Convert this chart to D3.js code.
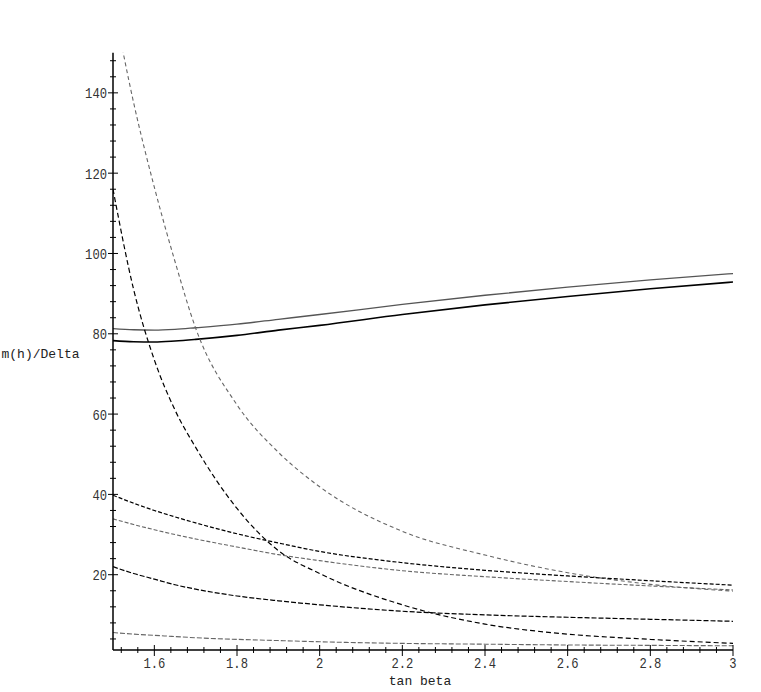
<!DOCTYPE html>
<html>
<head>
<meta charset="utf-8">
<script src="https://cdn.jsdelivr.net/npm/d3@7"></script>
<style>
  body { margin: 0; background: #fff; }
  svg { display: block; }
</style>
</head>
<body>
<script>
// tan beta grid shared by every curve
var tanBeta = [1.5, 1.55, 1.6, 1.65, 1.7, 1.8, 1.9, 2.0, 2.2, 2.4, 2.6, 2.8, 3.0];

// solid curves
var solidGray  = [81.3, 81.0, 80.9, 81.1, 81.5, 82.4, 83.6, 84.8, 87.3, 89.6, 91.6, 93.4, 95.0];
var solidBlack = [78.3, 78.0, 77.95, 78.2, 78.6, 79.6, 80.9, 82.1, 84.8, 87.2, 89.3, 91.2, 92.9];

// dashed curves
var steepGray  = [163, 137.5, 116.5, 98, 81.4, 62.3, 50.5, 41.9, 30.8, 24.9, 20.5, 17.6, 15.9];
var steepBlack = [116, 91, 73.5, 61, 51.7, 36.5, 26.0, 20.3, 12.5, 7.7, 5.2, 3.9, 2.9];
var upperBlack = [39.8, 37.8, 36.0, 34.4, 32.9, 30.2, 27.9, 25.8, 23.0, 21.1, 19.7, 18.5, 17.4];
var upperGray  = [33.9, 32.5, 31.2, 30.0, 28.9, 26.9, 25.0, 23.5, 21.0, 19.5, 18.3, 17.2, 16.2];
var lowerBlack = [22.0, 20.3, 18.9, 17.5, 16.4, 14.7, 13.5, 12.5, 10.9, 10.0, 9.4, 8.9, 8.4];
var lowerGray  = [5.6, 5.2, 4.9, 4.6, 4.3, 3.9, 3.6, 3.3, 2.9, 2.7, 2.5, 2.4, 2.3];

var xMajor = [1.6, 1.8, 2, 2.2, 2.4, 2.6, 2.8, 3];
var xLabels = ["1.6", "1.8", "2", "2.2", "2.4", "2.6", "2.8", "3"];
var yMajor = [20, 40, 60, 80, 100, 120, 140];
var yLabels = ["20", "40", "60", "80", "100", "120", "140"];

var W = 761, H = 692;

var svg = d3.select('body').append('svg')
    .attr('width', W)
    .attr('height', H);

var x = d3.scaleLinear().domain([1.5, 3]).range([113, 733]);
var y = d3.scaleLinear().domain([1.25, 150]).range([650, 52.7]);

// clip curves to the plotting box
svg.append('clipPath').attr('id', 'plotClip')
    .append('rect')
    .attr('x', x(1.5))
    .attr('y', y(150))
    .attr('width', x(3) - x(1.5))
    .attr('height', y(1.25) - y(150));

var series = [
    {vals: solidGray,  color: '#555', width: 1.3, dash: null},
    {vals: solidBlack, color: '#000', width: 1.6, dash: null},
    {vals: steepGray,  color: '#666', width: 1.1, dash: '4,3'},
    {vals: steepBlack, color: '#000', width: 1.2, dash: '5,3'},
    {vals: upperBlack, color: '#000', width: 1.2, dash: '4,2'},
    {vals: upperGray,  color: '#666', width: 1.1, dash: '4,2'},
    {vals: lowerBlack, color: '#000', width: 1.2, dash: '5,2'},
    {vals: lowerGray,  color: '#666', width: 1.1, dash: '5,2'}
];

var line = d3.line()
    .x(function(d) { return x(d[0]); })
    .y(function(d) { return y(d[1]); })
    .curve(d3.curveMonotoneX);

var g = svg.append('g').attr('clip-path', 'url(#plotClip)');

series.forEach(function(s) {
    var pts = tanBeta.map(function(t, i) { return [t, s.vals[i]]; });
    g.append('path')
        .attr('d', line(pts))
        .attr('fill', 'none')
        .attr('stroke', s.color)
        .attr('stroke-width', s.width)
        .attr('stroke-dasharray', s.dash);
});

// axes, Maple style: ticks cross the axis line
var axes = svg.append('g').attr('stroke', '#000');

axes.append('line')
    .attr('x1', x(1.5)).attr('x2', x(1.5))
    .attr('y1', y(150)).attr('y2', y(1.25))
    .attr('stroke-width', 1.5);
axes.append('line')
    .attr('x1', x(1.5)).attr('x2', x(3))
    .attr('y1', y(1.25)).attr('y2', y(1.25))
    .attr('stroke-width', 1.5);

var yMinor = d3.range(4, 150, 4);
axes.selectAll('.ytick').data(yMinor).enter().append('line')
    .attr('x1', function(d) { return d % 20 == 0 ? 108 : 110; })
    .attr('x2', function(d) { return d % 20 == 0 ? 118 : 116; })
    .attr('y1', function(d) { return y(d); })
    .attr('y2', function(d) { return y(d); })
    .attr('stroke-width', 1);

var xMinor = d3.range(38, 76).map(function(k) { return k * 0.04; });
axes.selectAll('.xtick').data(xMinor).enter().append('line')
    .attr('x1', function(d) { return x(d); })
    .attr('x2', function(d) { return x(d); })
    .attr('y1', function(d) { return Math.abs(d * 5 - Math.round(d * 5)) < 1e-6 ? 645 : 647; })
    .attr('y2', function(d) { return Math.abs(d * 5 - Math.round(d * 5)) < 1e-6 ? 656 : 653; })
    .attr('stroke-width', 1);

var labelFont = "'Liberation Mono', monospace";

svg.selectAll('.ylab').data(yMajor).enter().append('text')
    .attr('x', 107)
    .attr('y', function(d) { return y(d) + 5.5; })
    .attr('text-anchor', 'end')
    .attr('font-family', labelFont)
    .attr('font-size', 15)
    .attr('fill', '#333')
    .attr('textLength', function(d, i) { return yLabels[i].length * 7.3; })
    .attr('lengthAdjust', 'spacingAndGlyphs')
    .text(function(d, i) { return yLabels[i]; });

svg.selectAll('.xlab').data(xMajor).enter().append('text')
    .attr('x', function(d) { return x(d); })
    .attr('y', 667.5)
    .attr('text-anchor', 'middle')
    .attr('font-family', labelFont)
    .attr('font-size', 15)
    .attr('fill', '#333')
    .attr('textLength', function(d, i) { return xLabels[i].length * 7.3; })
    .attr('lengthAdjust', 'spacingAndGlyphs')
    .text(function(d, i) { return xLabels[i]; });

// axis titles
svg.append('text')
    .attr('x', 1.5)
    .attr('y', 358)
    .attr('font-family', "'Liberation Mono', monospace")
    .attr('font-size', 13)
    .attr('fill', '#222')
    .text('m(h)/Delta');

svg.append('text')
    .attr('x', 420)
    .attr('y', 685)
    .attr('text-anchor', 'middle')
    .attr('font-family', "'Liberation Mono', monospace")
    .attr('font-size', 13)
    .attr('fill', '#222')
    .text('tan beta');
</script>
</body>
</html>
